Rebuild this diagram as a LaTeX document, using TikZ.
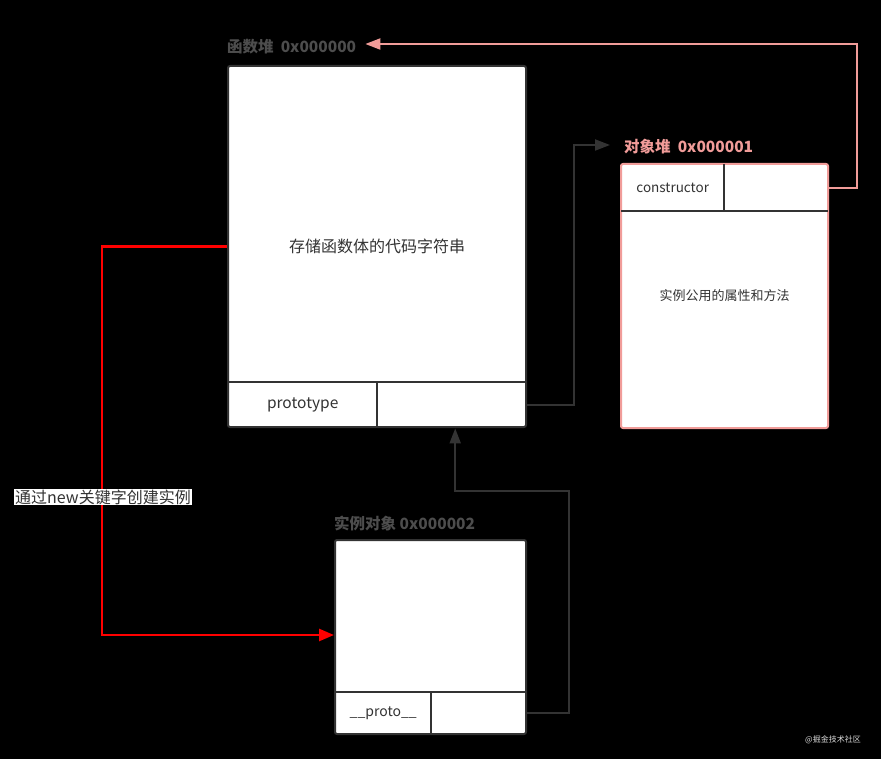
\documentclass[tikz,border=0pt]{standalone}
\usepackage{fontspec}
\setmainfont{Noto Sans CJK SC}
\usetikzlibrary{arrows.meta}
\definecolor{boxline}{HTML}{333333}
\definecolor{pinkline}{HTML}{F19C99}
\definecolor{labelgray}{HTML}{4D4D4D}
\tikzset{heapbox/.style={draw=boxline,fill=white,line width=2pt,rounded corners=2pt,inner sep=0,font=\fontsize{16}{18}\selectfont},
         cell/.style={inner sep=0,anchor=north west,font=\fontsize{15.5}{17}\selectfont,text=boxline},
         heaplabel/.style={font=\bfseries\fontsize{15.5}{17}\selectfont,text=labelgray,inner sep=1pt},
         grayarrow/.style={draw=boxline,line width=2pt,-{Triangle[length=15pt,width=11pt]}},
         pinkarrow/.style={draw=pinkline,line width=2pt,-{Triangle[length=15pt,width=11pt]}},
         redarrow/.style={draw=red,line width=2.6pt,-{Triangle[length=15pt,width=12pt]}}
}
\begin{document}
\begin{tikzpicture}[x=1pt,y=-1pt]
  \fill[black](0,0)rectangle(881,759);
  \useasboundingbox(0,0)rectangle(881,759);
  \node[heapbox,minimum width=298pt,minimum height=361pt,text=boxline] (fun) at (377,246.5) {存储函数体的代码字符串};
  \node[heapbox,draw=pinkline,minimum width=207pt,minimum height=264pt,text=boxline,font=\fontsize{13}{15}\selectfont] (obj) at (724.5,296) {实例公用的属性和方法};
  \node[heapbox,minimum width=191pt,minimum height=194pt] (inst) at (430.5,637) {};
  \node[cell,minimum width=149pt,minimum height=46pt] (proto) at (228,382) {prototype};
  \node[cell,minimum width=149pt,minimum height=46pt] (protoptr) at (377,382) {};
  \node[cell,minimum width=103pt,minimum height=47pt,font=\fontsize{13.5}{15}\selectfont] (ctor) at (621,164) {constructor};
  \node[cell,minimum width=104pt,minimum height=47pt] (ctorptr) at (724,164) {};
  \node[cell,minimum width=96pt,minimum height=42pt,font=\fontsize{14}{16}\selectfont] (iproto) at (335,692) {\_\_proto\_\_};
  \node[cell,minimum width=95pt,minimum height=42pt] (iptr) at (431,692) {};
  \draw[boxline,line width=2pt](proto.north west)--(protoptr.north east);
  \draw[boxline,line width=2pt](proto.north east)--(proto.south east);
  \draw[boxline,line width=2pt](ctor.south west)--(ctorptr.south east);
  \draw[boxline,line width=2pt](ctor.north east)--(ctor.south east);
  \draw[boxline,line width=2pt](iproto.north west)--(iptr.north east);
  \draw[boxline,line width=2pt](iproto.north east)--(iproto.south east);
  \node[heaplabel,anchor=west] (funlabel) at (226,47) {函数堆\ \ 0x000000};
  \node[heaplabel,anchor=west,text=pinkline] (objlabel) at (623,147) {对象堆\ \ 0x000001};
  \node[heaplabel,anchor=west] (instlabel) at (333,523) {实例对象 0x000002};
  \coordinate (bend) at (569,491);
  \draw[pinkarrow](ctorptr.east)--++(29,0)|-([xshift=8pt,yshift=3pt]funlabel.east);
  \draw[grayarrow](protoptr.east)--++(48,0)|-([xshift=-13pt,yshift=2pt]objlabel.west);
  \draw[grayarrow](iptr.east)-|(bend)-|([xshift=3.5pt]protoptr.south);
  \draw[redarrow](fun.west)--++(-125,0)|-([yshift=2pt]inst.west);
  \node[fill=white,text=boxline,inner sep=1pt,font=\fontsize{16}{18}\selectfont] (newlabel) at (103,497) {通过new关键字创建实例};
  \node[text=white!85!black,font=\fontsize{8}{10}\selectfont] (mark) at (833,740) {@掘金技术社区};
\end{tikzpicture}
\end{document}
